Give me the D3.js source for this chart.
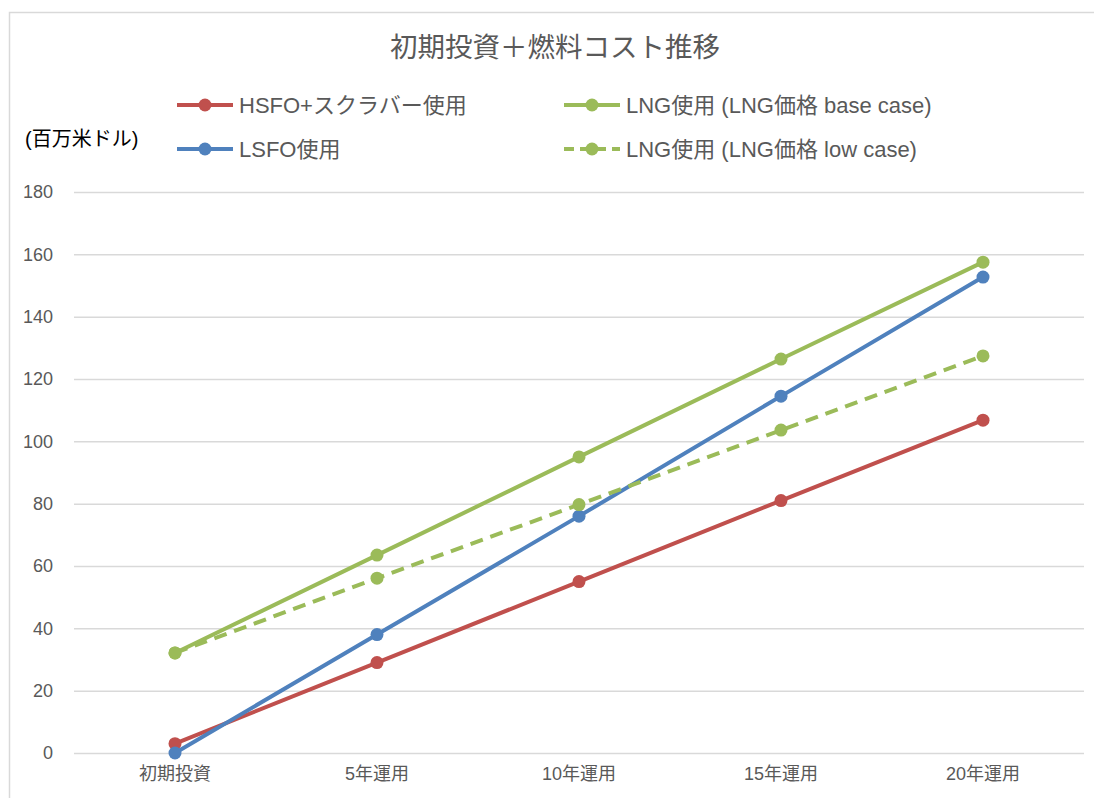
<!DOCTYPE html>
<html lang="ja">
<head>
<meta charset="utf-8">
<script src="https://cdn.jsdelivr.net/npm/d3@7"></script>
<style>
    body { margin: 0; background: #fff; }
    #chart text { font-family: "Liberation Sans", "Noto Sans CJK JP", sans-serif; }
</style>
</head>
<body>
<div id="chart"></div>
<script>
// データ
const categories = ['初期投資', '5年運用', '10年運用', '15年運用', '20年運用'];
const hsfoScrubber = [3, 29, 55, 81, 106.8];
const lsfo = [0, 38, 76, 114.5, 152.7];
const lngBase = [32.1, 63.5, 95, 126.4, 157.5];
const lngLow = [32.1, 56.1, 79.7, 103.6, 127.4];
const yTicks = [0, 20, 40, 60, 80, 100, 120, 140, 160, 180];

const series = [
    { name: 'HSFO+スクラバー使用', values: hsfoScrubber, color: '#C0504D', dash: null },
    { name: 'LSFO使用', values: lsfo, color: '#4F81BD', dash: null },
    { name: 'LNG使用 (LNG価格 base case)', values: lngBase, color: '#9BBB59', dash: null },
    { name: 'LNG使用 (LNG価格 low case)', values: lngLow, color: '#9BBB59', dash: '13,8' }
];

function drawChart() {
    const W = 1094, H = 798;
    const margin = {top: 192, right: 10, bottom: 45, left: 74};
    const width = 1084 - margin.left;
    const height = 753 - margin.top;

    const root = d3.select('#chart').append('svg')
        .attr('width', W)
        .attr('height', H);

    // 枠
    root.append('rect')
        .attr('x', 9.5).attr('y', 12.5)
        .attr('width', W).attr('height', H)
        .attr('fill', '#fff')
        .attr('stroke', '#d9d9d9')
        .attr('stroke-width', 1.5);

    // タイトル
    root.append('text')
        .attr('x', 555).attr('y', 57)
        .attr('text-anchor', 'middle')
        .style('font-size', '27.5px')
        .attr('fill', '#595959')
        .text('初期投資＋燃料コスト推移');

    // 単位
    root.append('text')
        .attr('x', 25).attr('y', 146)
        .style('font-size', '20px')
        .attr('fill', '#000')
        .text('(百万米ドル)');

    const svg = root.append('g')
        .attr('transform', `translate(${margin.left},${margin.top})`);

    // スケール
    const x = d3.scaleBand()
        .domain(categories)
        .range([0, width]);

    const y = d3.scaleLinear()
        .domain([0, 180])
        .range([height, 0]);

    const cx = c => x(c) + x.bandwidth() / 2;

    // グリッド
    svg.append('g')
        .call(d3.axisLeft(y).tickValues(yTicks).tickSize(-width).tickFormat(''))
        .call(g => g.select('.domain').remove())
        .call(g => g.selectAll('line').attr('stroke', '#d9d9d9').attr('stroke-width', 1.5));

    // 軸
    svg.append('g')
        .call(d3.axisLeft(y).tickValues(yTicks).tickSize(0).tickPadding(21))
        .call(g => g.select('.domain').remove())
        .call(g => g.selectAll('text')
            .attr('fill', '#595959')
            .style('font-size', '18px'));

    svg.append('g')
        .attr('transform', `translate(0,${height})`)
        .call(d3.axisBottom(x).tickSize(0).tickPadding(14))
        .call(g => g.select('.domain').remove())
        .call(g => g.selectAll('text')
            .attr('fill', '#595959')
            .style('font-size', '18px'));

    // 線
    const line = d3.line()
        .x((d, i) => cx(categories[i]))
        .y(d => y(d));

    series.forEach(s => {
        svg.append('path')
            .datum(s.values)
            .attr('fill', 'none')
            .attr('stroke', s.color)
            .attr('stroke-width', 4)
            .attr('stroke-linejoin', 'round')
            .attr('stroke-dasharray', s.dash)
            .attr('d', line);

        svg.selectAll(null)
            .data(s.values)
            .enter().append('circle')
            .attr('cx', (d, i) => cx(categories[i]))
            .attr('cy', d => y(d))
            .attr('r', 6.5)
            .attr('fill', s.color);
    });

    // 凡例
    const legendPos = [[177, 105], [177, 149], [564, 105], [564, 149]];
    series.forEach((s, i) => {
        const lg = root.append('g')
            .attr('transform', `translate(${legendPos[i][0]},${legendPos[i][1]})`);

        lg.append('line')
            .attr('x1', 0).attr('x2', 56)
            .attr('y1', 0).attr('y2', 0)
            .attr('stroke', s.color)
            .attr('stroke-width', 4)
            .attr('stroke-dasharray', s.dash ? '10,6' : null);

        lg.append('circle')
            .attr('cx', 28).attr('cy', 0)
            .attr('r', 6.5)
            .attr('fill', s.color);

        lg.append('text')
            .attr('x', 62).attr('y', 0)
            .attr('dy', '.35em')
            .style('font-size', '22px')
            .attr('fill', '#595959')
            .text(s.name);
    });
}

drawChart();
</script>
</body>
</html>
